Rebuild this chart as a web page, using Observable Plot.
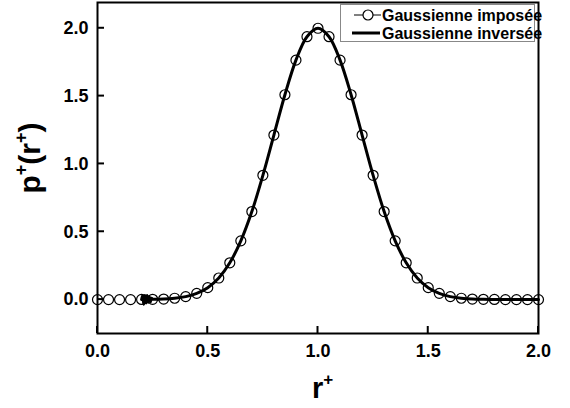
<!DOCTYPE html>
<html>
<head>
<meta charset="utf-8">
<script src="https://cdn.jsdelivr.net/npm/d3@7"></script>
<script src="https://cdn.jsdelivr.net/npm/@observablehq/plot@0.6"></script>
<style>
  html, body { margin: 0; padding: 0; background: #fff; }
  #chart svg { display: block; font-family: "Liberation Sans", Arial, sans-serif; font-weight: bold; }
</style>
</head>
<body>
<div id="chart"></div>
<script>
// Gaussienne imposée (markers), r+ from 0 to 2 step 0.05
const rImposed = [0.00,0.05,0.10,0.15,0.20,0.25,0.30,0.35,0.40,0.45,0.50,0.55,0.60,0.65,0.70,0.75,0.80,0.85,0.90,0.95,1.00,
                  1.05,1.10,1.15,1.20,1.25,1.30,1.35,1.40,1.45,1.50,1.55,1.60,1.65,1.70,1.75,1.80,1.85,1.90,1.95,2.00];
const pImposed = [0,0,0,0,0.001,0.002,0.004,0.010,0.022,0.046,0.088,0.159,0.271,0.433,0.649,0.916,1.213,1.510,1.765,1.938,2.000,
                  1.938,1.765,1.510,1.213,0.916,0.649,0.433,0.271,0.159,0.088,0.046,0.022,0.010,0.004,0.002,0.001,0,0,0,0];

// Gaussienne inversée (thick line), starts near r+ = 0.2 with a small noisy blob
const rInverse = [0.200,0.205,0.210,0.215,0.220,0.225,0.230,0.235,0.240,0.245,0.250,0.260,
                  0.30,0.35,0.40,0.45,0.50,0.55,0.60,0.65,0.70,0.75,0.80,0.85,0.90,0.95,1.00,
                  1.05,1.10,1.15,1.20,1.25,1.30,1.35,1.40,1.45,1.50,1.55,1.60,1.65,1.70,1.75,1.80,1.85,1.90,1.95,2.00];
const pInverse = [0.000,0.030,-0.035,0.030,-0.025,0.030,-0.020,0.020,-0.015,0.010,0.002,0.003,
                  0.004,0.010,0.022,0.046,0.088,0.159,0.271,0.433,0.649,0.916,1.213,1.510,1.765,1.938,2.000,
                  1.938,1.765,1.510,1.213,0.916,0.649,0.433,0.271,0.159,0.088,0.046,0.022,0.010,0.004,0.002,0.001,0,0,0,0];

const xTicks = [0, 0.5, 1.0, 1.5, 2.0];
const yTicks = [0, 0.5, 1.0, 1.5, 2.0];
const seriesNames = ["Gaussienne imposée", "Gaussienne inversée"];

const imposed = rImposed.map((r, i) => ({r, p: pImposed[i]}));
const inverse = rInverse.map((r, i) => ({r, p: pInverse[i]}));

const W = 570, H = 408, mL = 97, mR = 32, mT = 2, mB = 75;
const TICK = 7;

const plot = Plot.plot({
  width: W,
  height: H,
  marginLeft: mL,
  marginRight: mR,
  marginTop: mT,
  marginBottom: mB,
  x: {domain: [0, 2]},
  y: {domain: [-0.25, 2.19]},
  marks: [
    Plot.axisX({ticks: xTicks, tickSize: 0, tickPadding: 11, fontSize: 18, label: null, tickFormat: d => d.toFixed(1)}),
    Plot.axisY({ticks: yTicks, tickSize: 0, tickPadding: 9, fontSize: 18, label: null, tickFormat: d => d.toFixed(1)}),
    Plot.line(inverse, {x: "r", y: "p", stroke: "black", strokeWidth: 3, curve: "catmull-rom"}),
    Plot.dot(imposed, {x: "r", y: "p", r: 5, stroke: "black", strokeWidth: 1.2, fill: "none"}),
    Plot.frame({stroke: "black", strokeWidth: 2})
  ]
});
document.getElementById("chart").appendChild(plot);

const svg = d3.select(plot);
const sx = plot.scale("x"), sy = plot.scale("y");

// inward ticks, placed through the plot's own scales
const tg = svg.append("g").attr("stroke", "black").attr("stroke-width", 2);
xTicks.forEach(v => {
  const px = sx.apply(v);
  tg.append("line").attr("x1", px).attr("x2", px).attr("y1", H - mB).attr("y2", H - mB - TICK);
});
yTicks.forEach(v => {
  const py = sy.apply(v);
  tg.append("line").attr("x1", mL).attr("x2", mL + TICK).attr("y1", py).attr("y2", py);
});

// x-axis title r+
const xt = svg.append("text").attr("x", 312).attr("y", 398).attr("text-anchor", "start")
  .attr("font-size", 29).attr("font-weight", "bold").attr("fill", "black");
xt.append("tspan").text("r");
xt.append("tspan").attr("font-size", 17).attr("dy", -13).text("+");

// y-axis title p+(r+)
const yt = svg.append("text").attr("transform", "translate(40,158) rotate(-90)")
  .attr("text-anchor", "middle").attr("font-size", 30).attr("font-weight", "bold").attr("fill", "black");
yt.append("tspan").text("p");
yt.append("tspan").attr("font-size", 18).attr("dy", -13).text("+");
yt.append("tspan").attr("dy", 13).text("(r");
yt.append("tspan").attr("font-size", 18).attr("dy", -13).text("+");
yt.append("tspan").attr("dy", 13).text(")");

// legend
const lg = svg.append("g");
lg.append("rect").attr("x", 340.5).attr("y", 4.5).attr("width", 194).attr("height", 37)
  .attr("fill", "white").attr("stroke", "#888").attr("stroke-width", 1);
lg.append("line").attr("x1", 354).attr("x2", 381).attr("y1", 15).attr("y2", 15).attr("stroke", "black").attr("stroke-width", 1);
lg.append("circle").attr("cx", 368).attr("cy", 15).attr("r", 5).attr("fill", "white").attr("stroke", "black").attr("stroke-width", 1.2);
lg.append("line").attr("x1", 352).attr("x2", 380).attr("y1", 33).attr("y2", 33).attr("stroke", "black").attr("stroke-width", 3);
lg.append("text").attr("x", 382).attr("y", 20.5).attr("text-anchor", "start").attr("font-size", 16).attr("font-weight", "bold").text(seriesNames[0]);
lg.append("text").attr("x", 382).attr("y", 38.5).attr("text-anchor", "start").attr("font-size", 16).attr("font-weight", "bold").text(seriesNames[1]);
</script>
</body>
</html>
